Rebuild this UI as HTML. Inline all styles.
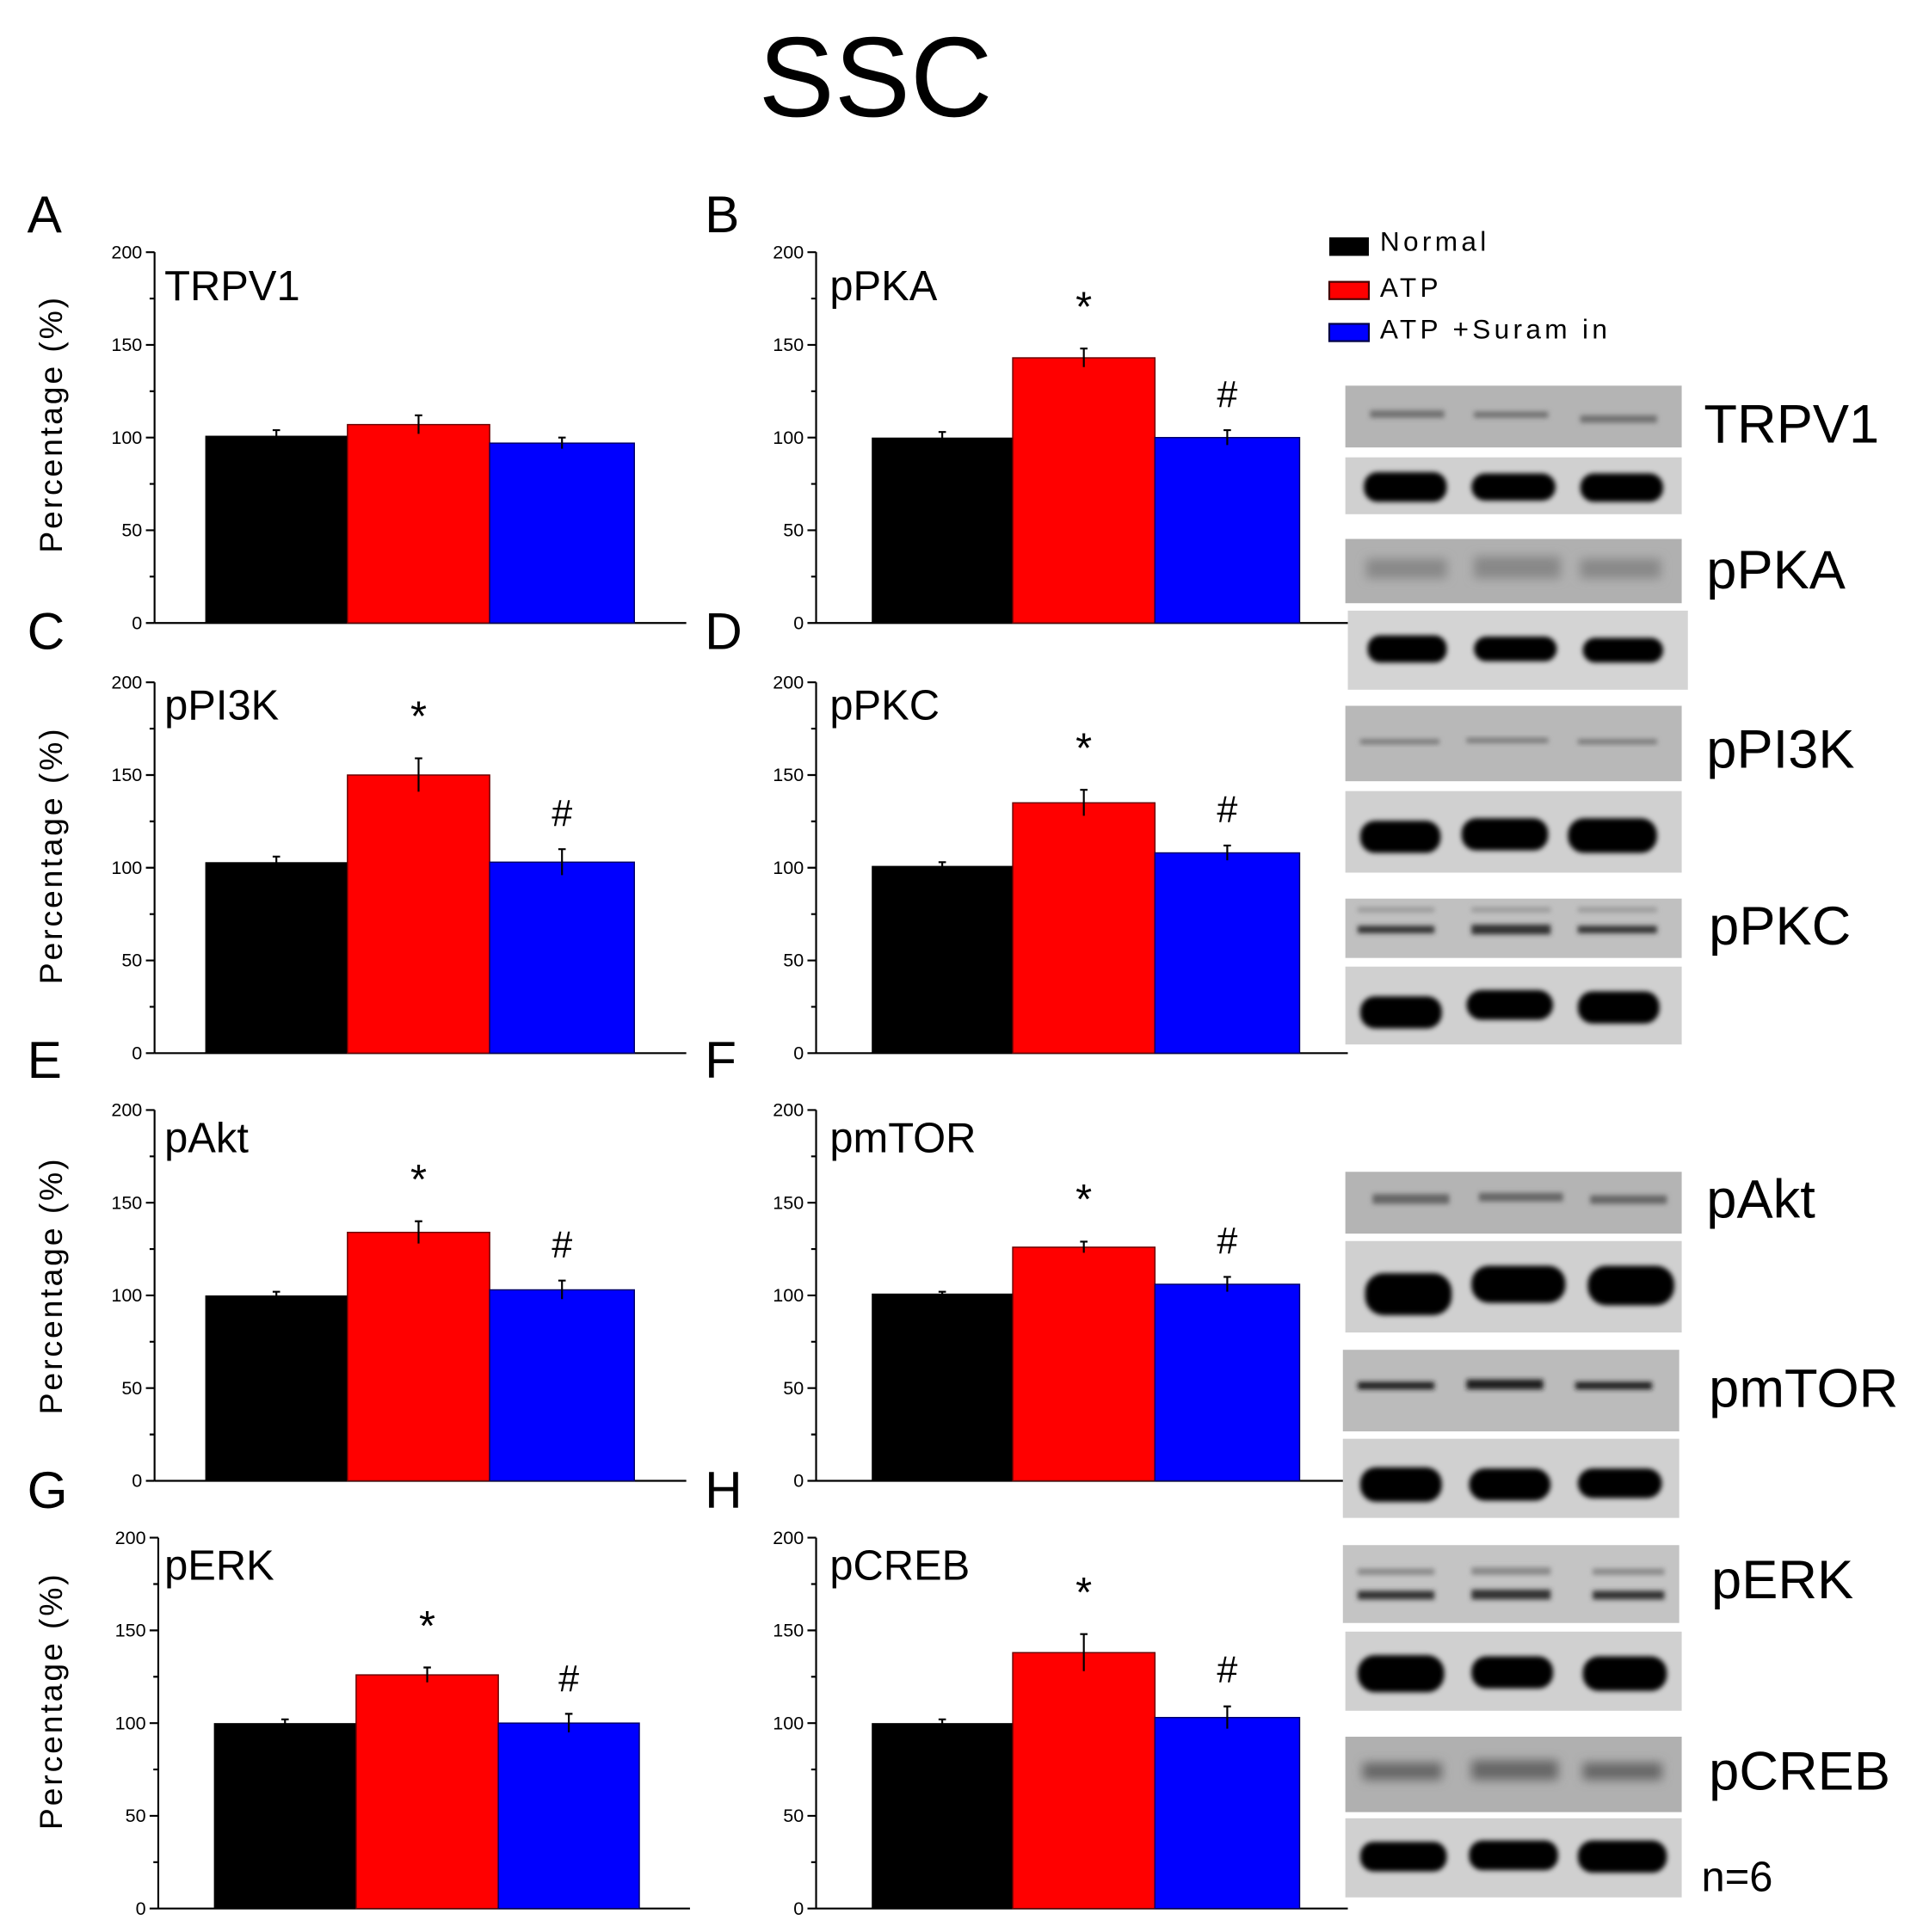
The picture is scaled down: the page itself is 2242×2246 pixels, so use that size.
<!DOCTYPE html>
<html><head><meta charset="utf-8"><style>html,body{margin:0;padding:0;background:#fff}svg{display:block}</style></head>
<body>
<svg width="2242" height="2246" viewBox="0 0 1560 1563" preserveAspectRatio="none" xmlns="http://www.w3.org/2000/svg" font-family="Liberation Sans, Arial, sans-serif">
<defs><filter id="bl" x="-20%" y="-50%" width="140%" height="200%"><feGaussianBlur stdDeviation="2"/></filter>
<filter id="bl2" x="-20%" y="-80%" width="140%" height="260%"><feGaussianBlur stdDeviation="4"/></filter></defs>
<rect width="1560" height="1563" fill="#fff"/>
<text x="708" y="94" font-size="92" text-anchor="middle">SSC</text>

<!-- panel letters -->
<g font-size="42">
<text x="22" y="188">A</text><text x="570" y="188">B</text>
<text x="22" y="525">C</text><text x="570" y="525">D</text>
<text x="22" y="872">E</text><text x="570" y="872">F</text>
<text x="22" y="1220">G</text><text x="570" y="1220">H</text>
</g>

<!-- y labels -->
<g font-size="26" letter-spacing="2" text-anchor="middle">
<text transform="translate(50,343) rotate(-90)">Percentage (%)</text>
<text transform="translate(50,692) rotate(-90)">Percentage (%)</text>
<text transform="translate(50,1040) rotate(-90)">Percentage (%)</text>
<text transform="translate(50,1376) rotate(-90)">Percentage (%)</text>
</g>

<!-- axis template reused via symbol -->
<defs>
<g id="ax" stroke="#000" stroke-width="1.5" fill="none">
<path d="M0,0V-300M0,0H430"/>
<path d="M-7,0H0M-7,-75H0M-7,-150H0M-7,-225H0M-7,-300H0"/>
<path d="M-4,-37.5H0M-4,-112.5H0M-4,-187.5H0M-4,-262.5H0"/>
</g>
<g id="tl" font-size="15" text-anchor="end" fill="#000">
<text x="-10" y="5">0</text><text x="-10" y="-70">50</text><text x="-10" y="-145">100</text><text x="-10" y="-220">150</text><text x="-10" y="-295">200</text>
</g>
</defs>

<!-- Panel A -->
<g transform="translate(125,504)">
<use href="#ax"/><use href="#tl"/>
<text x="8" y="-261" font-size="34">TRPV1</text>
<rect x="41" y="-151.5" width="115" height="151.5" fill="#000"/>
<rect x="156" y="-160.5" width="115" height="160.5" fill="#f00" stroke="#600" stroke-width="1"/>
<rect x="271" y="-145.5" width="117" height="145.5" fill="#00f" stroke="#006" stroke-width="1"/>
<g stroke="#000" stroke-width="1.5"><path d="M98.5,-156V-147M95.5,-156H101.5M213.5,-168V-153M210.5,-168H216.5M329.5,-150V-141M326.5,-150H332.5"/></g>
</g>

<!-- Panel B -->
<g transform="translate(660,504)">
<use href="#ax"/><use href="#tl"/>
<text x="11" y="-261" font-size="34">pPKA</text>
<rect x="45" y="-150" width="114" height="150" fill="#000"/>
<rect x="159" y="-214.5" width="115" height="214.5" fill="#f00" stroke="#600" stroke-width="1"/>
<rect x="274" y="-150" width="117" height="150" fill="#00f" stroke="#006" stroke-width="1"/>
<g stroke="#000" stroke-width="1.5"><path d="M102,-154.5V-145.5M99,-154.5H105M216.5,-222V-207M213.5,-222H219.5M332.5,-156V-144M329.5,-156H335.5"/></g>
<text x="216.5" y="-244" font-size="34" text-anchor="middle">*</text>
<text x="332.5" y="-175" font-size="30" text-anchor="middle">#</text>
</g>

<!-- Panel C -->
<g transform="translate(125,852)">
<use href="#ax"/><use href="#tl"/>
<text x="8" y="-270" font-size="34">pPI3K</text>
<rect x="41" y="-154.5" width="115" height="154.5" fill="#000"/>
<rect x="156" y="-225" width="115" height="225" fill="#f00" stroke="#600" stroke-width="1"/>
<rect x="271" y="-154.5" width="117" height="154.5" fill="#00f" stroke="#006" stroke-width="1"/>
<g stroke="#000" stroke-width="1.5"><path d="M98.5,-159V-150M95.5,-159H101.5M213.5,-238.5V-211.5M210.5,-238.5H216.5M329.5,-165V-144M326.5,-165H332.5"/></g>
<text x="213.5" y="-261" font-size="34" text-anchor="middle">*</text>
<text x="329.5" y="-184" font-size="30" text-anchor="middle">#</text>
</g>

<!-- Panel D -->
<g transform="translate(660,852)">
<use href="#ax"/><use href="#tl"/>
<text x="11" y="-270" font-size="34">pPKC</text>
<rect x="45" y="-151.5" width="114" height="151.5" fill="#000"/>
<rect x="159" y="-202.5" width="115" height="202.5" fill="#f00" stroke="#600" stroke-width="1"/>
<rect x="274" y="-162" width="117" height="162" fill="#00f" stroke="#006" stroke-width="1"/>
<g stroke="#000" stroke-width="1.5"><path d="M102,-154.5V-148.5M99,-154.5H105M216.5,-213V-192M213.5,-213H219.5M332.5,-168V-156M329.5,-168H335.5"/></g>
<text x="216.5" y="-235" font-size="34" text-anchor="middle">*</text>
<text x="332.5" y="-187" font-size="30" text-anchor="middle">#</text>
</g>

<!-- Panel E -->
<g transform="translate(125,1198)">
<use href="#ax"/><use href="#tl"/>
<text x="8" y="-266" font-size="34">pAkt</text>
<rect x="41" y="-150" width="115" height="150" fill="#000"/>
<rect x="156" y="-201" width="115" height="201" fill="#f00" stroke="#600" stroke-width="1"/>
<rect x="271" y="-154.5" width="117" height="154.5" fill="#00f" stroke="#006" stroke-width="1"/>
<g stroke="#000" stroke-width="1.5"><path d="M98.5,-153V-147M95.5,-153H101.5M213.5,-210V-192M210.5,-210H216.5M329.5,-162V-147M326.5,-162H332.5"/></g>
<text x="213.5" y="-232" font-size="34" text-anchor="middle">*</text>
<text x="329.5" y="-181" font-size="30" text-anchor="middle">#</text>
</g>

<!-- Panel F -->
<g transform="translate(660,1198)">
<use href="#ax"/><use href="#tl"/>
<text x="11" y="-266" font-size="34">pmTOR</text>
<rect x="45" y="-151.5" width="114" height="151.5" fill="#000"/>
<rect x="159" y="-189" width="115" height="189" fill="#f00" stroke="#600" stroke-width="1"/>
<rect x="274" y="-159" width="117" height="159" fill="#00f" stroke="#006" stroke-width="1"/>
<g stroke="#000" stroke-width="1.5"><path d="M102,-153V-150M99,-153H105M216.5,-193.5V-184.5M213.5,-193.5H219.5M332.5,-165V-153M329.5,-165H335.5"/></g>
<text x="216.5" y="-216" font-size="34" text-anchor="middle">*</text>
<text x="332.5" y="-184" font-size="30" text-anchor="middle">#</text>
</g>

<!-- Panel G -->
<g transform="translate(128,1544)">
<use href="#ax"/><use href="#tl"/>
<text x="5" y="-266" font-size="34">pERK</text>
<rect x="45" y="-150" width="115" height="150" fill="#000"/>
<rect x="160" y="-189" width="115" height="189" fill="#f00" stroke="#600" stroke-width="1"/>
<rect x="275" y="-150" width="114" height="150" fill="#00f" stroke="#006" stroke-width="1"/>
<g stroke="#000" stroke-width="1.5"><path d="M102.5,-153V-147M99.5,-153H105.5M217.5,-195V-183M214.5,-195H220.5M332,-157.5V-142.5M329,-157.5H335"/></g>
<text x="217.5" y="-217" font-size="34" text-anchor="middle">*</text>
<text x="332" y="-176" font-size="30" text-anchor="middle">#</text>
</g>

<!-- Panel H -->
<g transform="translate(660,1544)">
<use href="#ax"/><use href="#tl"/>
<text x="11" y="-266" font-size="34">pCREB</text>
<rect x="45" y="-150" width="114" height="150" fill="#000"/>
<rect x="159" y="-207" width="115" height="207" fill="#f00" stroke="#600" stroke-width="1"/>
<rect x="274" y="-154.5" width="117" height="154.5" fill="#00f" stroke="#006" stroke-width="1"/>
<g stroke="#000" stroke-width="1.5"><path d="M102,-153V-147M99,-153H105M216.5,-222V-192M213.5,-222H219.5M332.5,-163.5V-145.5M329.5,-163.5H335.5"/></g>
<text x="216.5" y="-244" font-size="34" text-anchor="middle">*</text>
<text x="332.5" y="-183" font-size="30" text-anchor="middle">#</text>
</g>

<!-- Legend -->
<rect x="1075" y="192" width="32" height="15" fill="#000"/>
<rect x="1075" y="228" width="32" height="14" fill="#f00" stroke="#400" stroke-width="1.5"/>
<rect x="1075" y="262" width="32" height="14" fill="#00f" stroke="#004" stroke-width="1.5"/>
<g font-size="22" letter-spacing="3">
<text x="1116" y="203">Normal</text>
<text x="1116" y="240">ATP</text>
<text x="1116" y="274">ATP +Suram in</text>
</g>

<!-- Blots -->
<g>
<!-- TRPV1 -->
<rect x="1088" y="312" width="272" height="50" fill="#b4b4b4"/>
<g fill="#707070" filter="url(#bl)"><rect x="1108" y="332" width="60" height="6"/><rect x="1192" y="333" width="60" height="5"/><rect x="1278" y="336" width="62" height="6"/></g>
<rect x="1088" y="370" width="272" height="46" fill="#d0d0d0"/>
<g fill="#000" filter="url(#bl)"><rect x="1103" y="382" width="67" height="24" rx="11"/><rect x="1190" y="383" width="68" height="22" rx="11"/><rect x="1278" y="383" width="67" height="23" rx="11"/></g>
<!-- pPKA -->
<rect x="1088" y="436" width="272" height="52" fill="#b0b0b0"/>
<g fill="#888" filter="url(#bl2)"><rect x="1105" y="452" width="65" height="16"/><rect x="1192" y="450" width="70" height="18"/><rect x="1278" y="452" width="65" height="16"/></g>
<rect x="1090" y="494" width="275" height="64" fill="#d4d4d4"/>
<g fill="#000" filter="url(#bl)"><rect x="1106" y="514" width="64" height="22" rx="10"/><rect x="1192" y="515" width="67" height="20" rx="10"/><rect x="1280" y="516" width="65" height="20" rx="10"/></g>
<!-- pPI3K -->
<rect x="1088" y="571" width="272" height="61" fill="#b8b8b8"/>
<g fill="#777" filter="url(#bl)"><rect x="1100" y="598" width="64" height="4"/><rect x="1186" y="597" width="66" height="4"/><rect x="1276" y="598" width="64" height="4"/></g>
<rect x="1088" y="640" width="272" height="66" fill="#d0d0d0"/>
<g fill="#000" filter="url(#bl)"><rect x="1100" y="664" width="65" height="26" rx="12"/><rect x="1182" y="662" width="70" height="26" rx="12"/><rect x="1268" y="662" width="72" height="28" rx="13"/></g>
<!-- pPKC -->
<rect x="1088" y="727" width="272" height="48" fill="#c0c0c0"/>
<g filter="url(#bl)"><g fill="#999"><rect x="1098" y="734" width="62" height="4"/><rect x="1190" y="734" width="64" height="4"/><rect x="1276" y="734" width="64" height="4"/></g>
<g fill="#333"><rect x="1098" y="749" width="62" height="6"/><rect x="1190" y="748" width="64" height="8"/><rect x="1276" y="749" width="64" height="6"/></g></g>
<rect x="1088" y="782" width="272" height="63" fill="#d0d0d0"/>
<g fill="#000" filter="url(#bl)"><rect x="1100" y="806" width="66" height="26" rx="12"/><rect x="1186" y="801" width="70" height="24" rx="12"/><rect x="1276" y="802" width="66" height="26" rx="12"/></g>
<!-- pAkt -->
<rect x="1088" y="948" width="272" height="50" fill="#b4b4b4"/>
<g fill="#666" filter="url(#bl)"><rect x="1110" y="966" width="62" height="8"/><rect x="1196" y="965" width="68" height="7"/><rect x="1286" y="967" width="62" height="7"/></g>
<rect x="1088" y="1004" width="272" height="74" fill="#d0d0d0"/>
<g fill="#000" filter="url(#bl)"><rect x="1104" y="1030" width="70" height="34" rx="15"/><rect x="1190" y="1024" width="76" height="30" rx="14"/><rect x="1284" y="1024" width="70" height="32" rx="15"/></g>
<!-- pmTOR -->
<rect x="1086" y="1092" width="272" height="66" fill="#bbb"/>
<g fill="#1a1a1a" filter="url(#bl)"><rect x="1098" y="1118" width="62" height="6"/><rect x="1186" y="1116" width="62" height="8"/><rect x="1274" y="1118" width="62" height="6"/></g>
<rect x="1086" y="1164" width="272" height="64" fill="#d0d0d0"/>
<g fill="#000" filter="url(#bl)"><rect x="1100" y="1187" width="66" height="28" rx="13"/><rect x="1188" y="1188" width="66" height="26" rx="13"/><rect x="1276" y="1188" width="68" height="24" rx="12"/></g>
<!-- pERK -->
<rect x="1086" y="1250" width="272" height="63" fill="#c4c4c4"/>
<g filter="url(#bl)"><g fill="#888"><rect x="1098" y="1269" width="62" height="5"/><rect x="1190" y="1268" width="64" height="6"/><rect x="1288" y="1269" width="58" height="5"/></g>
<g fill="#333"><rect x="1098" y="1287" width="62" height="7"/><rect x="1190" y="1286" width="64" height="8"/><rect x="1288" y="1287" width="58" height="7"/></g></g>
<rect x="1088" y="1320" width="272" height="64" fill="#d0d0d0"/>
<g fill="#000" filter="url(#bl)"><rect x="1098" y="1339" width="70" height="30" rx="14"/><rect x="1190" y="1340" width="66" height="26" rx="12"/><rect x="1280" y="1340" width="68" height="28" rx="13"/></g>
<!-- pCREB -->
<rect x="1088" y="1405" width="272" height="61" fill="#b0b0b0"/>
<g fill="#666" filter="url(#bl2)"><rect x="1102" y="1426" width="64" height="14"/><rect x="1190" y="1424" width="70" height="16"/><rect x="1280" y="1426" width="64" height="14"/></g>
<rect x="1088" y="1471" width="272" height="64" fill="#d0d0d0"/>
<g fill="#000" filter="url(#bl)"><rect x="1100" y="1490" width="70" height="24" rx="11"/><rect x="1188" y="1489" width="72" height="24" rx="11"/><rect x="1276" y="1489" width="72" height="26" rx="12"/></g>
</g>

<g font-size="44" fill="#000">
<text x="1378" y="358">TRPV1</text>
<text x="1380" y="476">pPKA</text>
<text x="1380" y="621">pPI3K</text>
<text x="1382" y="764">pPKC</text>
<text x="1380" y="985">pAkt</text>
<text x="1382" y="1138">pmTOR</text>
<text x="1384" y="1293">pERK</text>
<text x="1382" y="1448">pCREB</text>
</g>
<text x="1376" y="1530" font-size="34">n=6</text>
</svg>
</body></html>
